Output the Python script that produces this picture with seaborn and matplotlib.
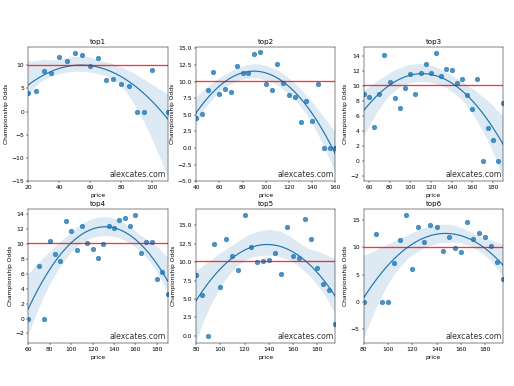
import matplotlib
matplotlib.use("Agg")
import matplotlib.pyplot as plt
import seaborn as sns
import pandas as pd

titles = ["top1", "top2", "top3", "top4", "top5", "top6"]

x1 = [20, 25, 30, 35, 40, 45, 50, 55, 60, 65, 70, 75, 80, 85, 90, 95, 100, 110]
y1 = [4.0, 4.4, 8.8, 8.4, 11.8, 10.9, 12.7, 12.2, 9.8, 11.5, 6.9, 7.1, 5.9, 5.5, 0, 0, 8.9, 0]

x2 = list(range(40, 161, 5))
y2 = [4.5, 5.1, 8.8, 11.4, 8.1, 8.9, 8.5, 12.4, 11.3, 11.3, 14.2, 14.4, 9.7, 8.8,
      12.6, 9.8, 8.0, 7.7, 3.9, 7.0, 4.1, 9.7, 0, 0, 0]

x3 = list(range(55, 191, 5))
y3 = [9.0, 8.6, 4.5, 8.9, 14.1, 10.5, 8.4, 7.1, 9.8, 11.6, 8.9, 11.7, 12.9, 11.7,
      14.4, 11.3, 12.3, 12.2, 10.4, 11.0, 8.8, 6.9, 11.0, 0, 4.4, 2.8, 0, 7.7]

x4 = [60, 70, 75, 80, 85, 90, 95, 100, 105, 110, 115, 120, 125, 130, 135, 140,
      145, 150, 155, 160, 165, 170, 175, 180, 185, 190]
y4 = [0, 7.1, 0, 10.4, 8.7, 7.7, 13.1, 11.7, 9.2, 12.4, 10.1, 9.4, 8.1, 10.0,
      12.4, 12.2, 13.2, 13.5, 12.5, 13.9, 8.8, 10.3, 10.3, 5.3, 6.2, 3.3]

x5 = list(range(80, 196, 5))
y5 = [8.3, 5.6, 0, 12.5, 6.6, 13.1, 10.9, 8.9, 16.4, 12.0, 10.0, 10.2, 10.3, 11.2,
      8.4, 14.8, 10.9, 10.5, 15.8, 13.1, 9.2, 7.1, 6.2, 1.6]

x6 = [80, 90, 95, 100, 105, 110, 115, 120, 125, 130, 135, 140, 145, 150, 155,
      160, 165, 170, 175, 180, 185, 190, 195]
y6 = [0, 12.4, 0, 0, 7.1, 11.3, 15.9, 6.1, 13.7, 10.9, 14.1, 13.8, 9.4, 11.8,
      9.9, 9.1, 14.7, 11.5, 12.7, 11.8, 10.3, 7.3, 4.1]

threshold = 10.1
ylims = [(-15, 13.9), (-5.0, 15.2), (-2.7, 15.2), (-3.3, 14.7), (-1.0, 17.2), (-7.6, 17.0)]

xs = [x1, x2, x3, x4, x5, x6]
ys = [y1, y2, y3, y4, y5, y6]

W, H = 514, 386
dpi = W / 12.0
fig, axes = plt.subplots(2, 3, figsize=(12.0, H / dpi), dpi=dpi)
fig.subplots_adjust(left=0.055, right=0.979, top=0.878, bottom=0.111,
                    wspace=0.204, hspace=0.209)

for ax, t, x, y, yl in zip(axes.flat, titles, xs, ys, ylims):
    df = pd.DataFrame({"price": x, "Championship Odds": y})
    sns.regplot(data=df, x="price", y="Championship Odds", order=2, ax=ax,
                seed=0, scatter_kws={"s": 60}, line_kws={"lw": 2})
    ax.axhline(threshold, color="red", alpha=0.8, lw=2.2)
    ax.set_xlim(min(x), max(x))
    ax.set_ylim(*yl)
    ax.set_title(t, fontsize=12)
    ax.text(0.99, 0.015, "alexcates.com", ha="right", va="bottom",
            transform=ax.transAxes, fontsize=13, color="#333333")

fig.savefig("out.png", dpi=dpi)
